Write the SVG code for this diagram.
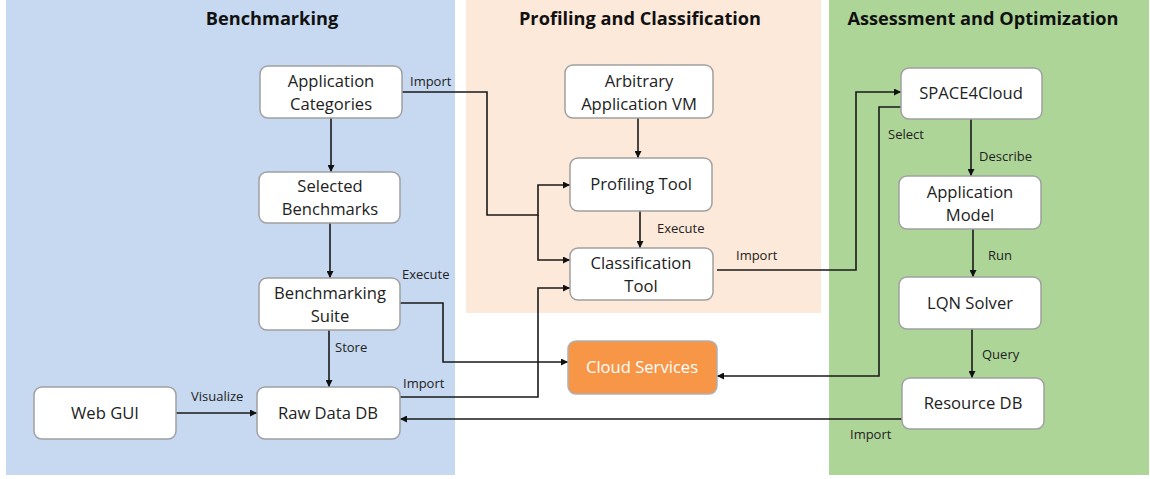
<svg xmlns="http://www.w3.org/2000/svg" width="1150" height="479" viewBox="0 0 1150 479">
<style>
.panel{stroke:none}
.title{font-family:"Open Sans","Liberation Sans",sans-serif;font-weight:bold;font-size:18.2px;fill:#111;text-anchor:middle}
.node rect{fill:#fff;stroke:#a0a0a0;stroke-width:1.5}
.node text{font-family:"Open Sans","Liberation Sans",sans-serif;font-size:16.6px;fill:#222;text-anchor:middle}
.conn path{fill:none;stroke:#1a1a1a;stroke-width:1.6}
.lbl{font-family:"Open Sans","Liberation Sans",sans-serif;font-size:13px;fill:#222}
</style>
<defs>
<marker id="ah" viewBox="0 0 10 10" refX="10" refY="5" markerWidth="7" markerHeight="7" markerUnits="userSpaceOnUse" orient="auto">
<path d="M0,0 L10,5 L0,10 z" fill="#111"/>
</marker>
</defs>
<rect width="1150" height="479" fill="#fff"/>
<rect class="panel" x="6" y="0" width="449" height="475" fill="#c6d9f0"/>
<rect class="panel" x="466" y="0" width="355" height="313" fill="#fde9d9"/>
<rect class="panel" x="829" y="0" width="320" height="475" fill="#aed598"/>
<text class="title" x="272" y="25">Benchmarking</text>
<text class="title" x="640" y="25">Profiling and Classification</text>
<text class="title" x="983" y="25">Assessment and Optimization</text>

<g class="conn">
<path d="M331,118 V172" marker-end="url(#ah)"/>
<path d="M330,223 V278" marker-end="url(#ah)"/>
<path d="M329,330 V387" marker-end="url(#ah)"/>
<path d="M176,413 H257" marker-end="url(#ah)"/>
<path d="M402,92 H487 V215 H538 V185 H570" marker-end="url(#ah)"/>
<path d="M538,215 V260 H570" marker-end="url(#ah)"/>
<path d="M400,303 H443 V362 H568" marker-end="url(#ah)"/>
<path d="M400,397 H538 V288 H570" marker-end="url(#ah)"/>
<path d="M638,118 V158" marker-end="url(#ah)"/>
<path d="M640,211 V248" marker-end="url(#ah)"/>
<path d="M717,270 H856 V92 H901" marker-end="url(#ah)"/>
<path d="M901,107 H879 V376 H717" marker-end="url(#ah)"/>
<path d="M971,119 V176" marker-end="url(#ah)"/>
<path d="M973,229 V277" marker-end="url(#ah)"/>
<path d="M972,329 V378" marker-end="url(#ah)"/>
<path d="M902,419 H400" marker-end="url(#ah)"/>
<text class="lbl" x="410" y="86">Import</text>
<text class="lbl" x="402" y="279">Execute</text>
<text class="lbl" x="335" y="352">Store</text>
<text class="lbl" x="191" y="401">Visualize</text>
<text class="lbl" x="403" y="388">Import</text>
<text class="lbl" x="657" y="233">Execute</text>
<text class="lbl" x="736" y="260">Import</text>
<text class="lbl" x="888" y="139">Select</text>
<text class="lbl" x="979" y="161">Describe</text>
<text class="lbl" x="988" y="260">Run</text>
<text class="lbl" x="982" y="359">Query</text>
<text class="lbl" x="850" y="439">Import</text>
</g>

<g id="app-categories" class="node"><rect x="260" y="66" width="142" height="52" rx="8"/><text x="331" y="87">Application</text><text x="331" y="110">Categories</text></g>
<g id="selected-benchmarks" class="node"><rect x="259" y="172" width="141" height="51" rx="8"/><text x="330" y="192">Selected</text><text x="330" y="215">Benchmarks</text></g>
<g id="benchmarking-suite" class="node"><rect x="259" y="278" width="141" height="52" rx="8"/><text x="330" y="299">Benchmarking</text><text x="330" y="322">Suite</text></g>
<g id="raw-data-db" class="node"><rect x="257" y="387" width="143" height="52" rx="8"/><text x="328" y="419">Raw Data DB</text></g>
<g id="web-gui" class="node"><rect x="34" y="387" width="142" height="52" rx="8"/><text x="105" y="419">Web GUI</text></g>
<g id="arbitrary-vm" class="node"><rect x="565" y="65" width="148" height="53" rx="8"/><text x="639" y="87">Arbitrary</text><text x="639" y="110">Application VM</text></g>
<g id="profiling-tool" class="node"><rect x="570" y="158" width="142" height="53" rx="8"/><text x="641" y="190">Profiling Tool</text></g>
<g id="classification-tool" class="node"><rect x="570" y="248" width="143" height="52" rx="8"/><text x="641" y="269">Classification</text><text x="641" y="292">Tool</text></g>
<g id="cloud-services" class="node"><rect x="568" y="341" width="149" height="53" rx="8" style="fill:#f79646;stroke:#b0b0b0"/><text x="642" y="373" style="fill:#fff">Cloud Services</text></g>
<g id="space4cloud" class="node"><rect x="901" y="68" width="141" height="51" rx="8"/><text x="971" y="99">SPACE4Cloud</text></g>
<g id="application-model" class="node"><rect x="899" y="176" width="142" height="53" rx="8"/><text x="970" y="198">Application</text><text x="970" y="221">Model</text></g>
<g id="lqn-solver" class="node"><rect x="899" y="277" width="142" height="52" rx="8"/><text x="970" y="309">LQN Solver</text></g>
<g id="resource-db" class="node"><rect x="902" y="378" width="142" height="51" rx="8"/><text x="973" y="409">Resource DB</text></g>
</svg>
